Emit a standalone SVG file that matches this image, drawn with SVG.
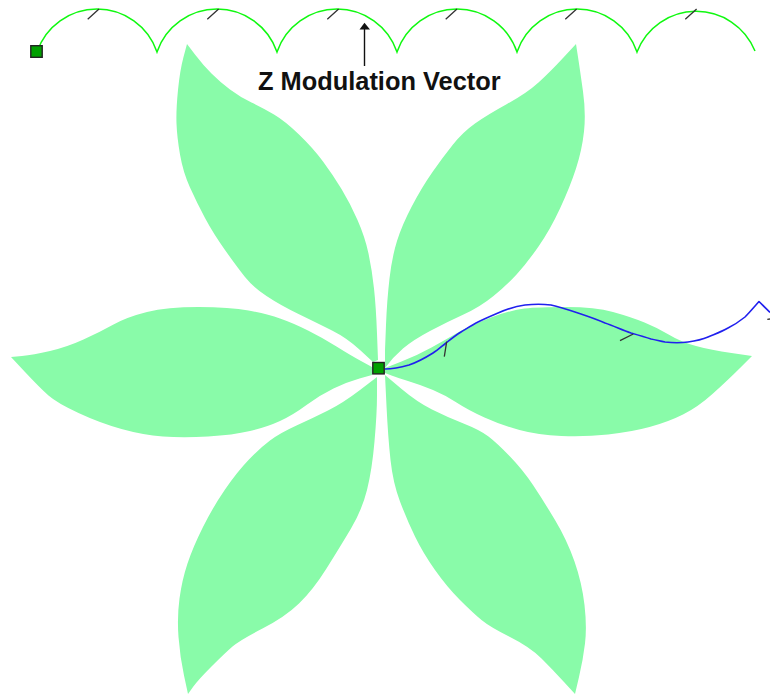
<svg xmlns="http://www.w3.org/2000/svg" width="770" height="695" viewBox="0 0 770 695">
<style>
.petal{fill:#89fba9;stroke:none}
.tick{fill:none;stroke:#333;stroke-width:1.3}
.handle{fill:#00a000;stroke:#222;stroke-width:1.4}
.label{font-family:"Liberation Sans",Arial,sans-serif;font-weight:bold;font-size:25.4px;fill:#111}
</style>
<rect width="770" height="695" fill="#fff"/>
<g id="flower">
<path class="petal" d="M187 44L195 54.500Q203 65 211.500 73.500Q220 82 230 89.500Q240 97 251.500 102.500Q263 108 274 114.500Q285 121 299 134.500Q313 148 323 161.500Q333 175 341.500 189Q350 203 357.500 220Q365 237 368.500 253.500Q372 270 374 288.500Q376 307 377 333.500L378 360L373 362L360 350Q347 338 332 330.500Q317 323 298.500 314Q280 305 266.500 296Q253 287 245 277Q237 267 225 250Q213 233 205 218Q197 203 190 187.500Q183 172 180 154.500Q177 137 176.500 123.500Q176 110 178 90Q180 70 183.500 57Z"/>
<path class="petal" d="M576 44L578 57Q580 70 583 91.500Q586 113 584 131.500Q582 150 576 168.500Q570 187 560 208.500Q550 230 538.500 246.500Q527 263 517 274Q507 285 493.500 296Q480 307 463.500 314.500Q447 322 430 331Q413 340 403 348.500Q393 357 385 368L385 350L386 325Q387 300 389.500 278.500Q392 257 397 241Q402 225 412 206Q422 187 432.500 172Q443 157 453 144.500Q463 132 475 123.500Q487 115 507 104Q527 93 538.500 82.500Q550 72 563 58Z"/>
<path class="petal" d="M11 357L22 356Q33 355 50 351Q67 347 83.500 339.500Q100 332 113.500 324.500Q127 317 147 312Q167 307 198.500 307Q230 307 248.500 310.500Q267 314 280 318.500Q293 323 308 330.500Q323 338 336.500 346.500Q350 355 361 361L372 367L372 375L359.500 378.500Q347 382 333.500 388.500Q320 395 306.500 405Q293 415 280 421Q267 427 250 431Q233 435 208 436.500Q183 438 163 436.500Q143 435 121.500 429Q100 423 78.500 413Q57 403 48.500 395.500Q40 388 25 372Z"/>
<path class="petal" d="M752 356L731.500 353Q711 350 696 346Q681 342 669.500 335Q658 328 644.500 322.500Q631 317 613 312Q595 307 566.500 307Q538 307 524.500 308.500Q511 310 491 317.500Q471 325 458 332.500Q445 340 431.500 347.500Q418 355 401.500 361.500L385 368L385 373L391.500 375.500Q398 378 409.500 381.500Q421 385 433 390Q445 395 456.500 402.500Q468 410 484.500 417.500Q501 425 519.500 430Q538 435 561.500 436Q585 437 608 434.500Q631 432 649.500 427Q668 422 683 414.500Q698 407 713 393.500Q728 380 740 368Z"/>
<path class="petal" d="M188 694L193 687Q198 680 211.500 666.500Q225 653 232.500 646.500Q240 640 262.500 628.500Q285 617 299 603.500Q313 590 326.500 568.500Q340 547 351 528.500Q362 510 367 490Q372 470 374.500 441.500Q377 413 377 395L377 377L360 390Q343 403 328 410.500Q313 418 296.500 425.500Q280 433 270 440.500Q260 448 248.500 460Q237 472 225 489.500Q213 507 203 527Q193 547 187.500 563.500Q182 580 179.500 598.500Q177 617 178.500 637Q180 657 184 675.500Z"/>
<path class="petal" d="M575 694L564 682Q553 670 541.500 658.500Q530 647 510 637Q490 627 481.500 620Q473 613 460 600Q447 587 435 570Q423 553 415 536.500Q407 520 400 501.500Q393 483 390.500 460Q388 437 386.500 406L385 375L401 388.500Q417 402 432 409.500Q447 417 463.500 423.500Q480 430 488.500 436.500Q497 443 510 456.500Q523 470 533 485Q543 500 555 520Q567 540 574.500 561.500Q582 583 584.500 605Q587 627 585 643.500Q583 660 579 677Z"/>
</g>
<g id="connectors">
<path id="z-modulation-curve" fill="none" stroke="#10f810" stroke-width="1.5" d="M37 52A63.4 63.4 0 0 1 157 52A63.4 63.4 0 0 1 277 52A63.4 63.4 0 0 1 397 52A63.4 63.4 0 0 1 517 52A63.4 63.4 0 0 1 637 52A63.4 63.4 0 0 1 755 51"/>
<path class="tick" d="M87.700 19.300L99 9M207.300 19.300L218.600 9M327.300 19.300L338.600 9M445.700 19.300L457 9M565.300 19.300L576.600 9M685.300 19.300L696.600 9"/>
<path id="spiral-curve" fill="none" stroke="#2020ee" stroke-width="1.6" stroke-linejoin="round" d="M385 369C394 369 402 367 409 365C418 362 425 358 433 353C438 350 442 346 446 343C451 339 456 335 461 332C466 329 472 325 478 322C484 319 491 316 498 313C507 309 516 306 525 305C534 304 543 304 551 305C560 307 569 310 578 313C587 316 596 319 605 323C614 326 622 330 631 333C638 335 645 337 651 339C656 340 660 341 665 342C673 343 681 343 688 342C695 341 701 340 708 337C715 334 721 332 728 328C734 325 740 321 745 317C750 312 755 306 759 301.500L770 312.500"/>
<path class="tick" d="M444.300 356.700L446.700 341.700M620 340.700L633.300 334M767.300 319.300L770 319"/>
<path id="z-arrow-line" d="M364.500 66V28" fill="none" stroke="#111" stroke-width="1.4"/>
<polygon id="z-arrow-head" points="364.500,22.700 370,29.500 359.500,29.500" fill="#111"/>
</g>
<g id="z-handle"><rect class="handle" x="30.800" y="45.700" width="11.400" height="11.600"/></g>
<g id="center-handle"><rect class="handle" x="372.800" y="362.500" width="11.400" height="11.400"/></g>
<g id="z-label"><text class="label" x="258" y="90">Z Modulation Vector</text></g>
</svg>
